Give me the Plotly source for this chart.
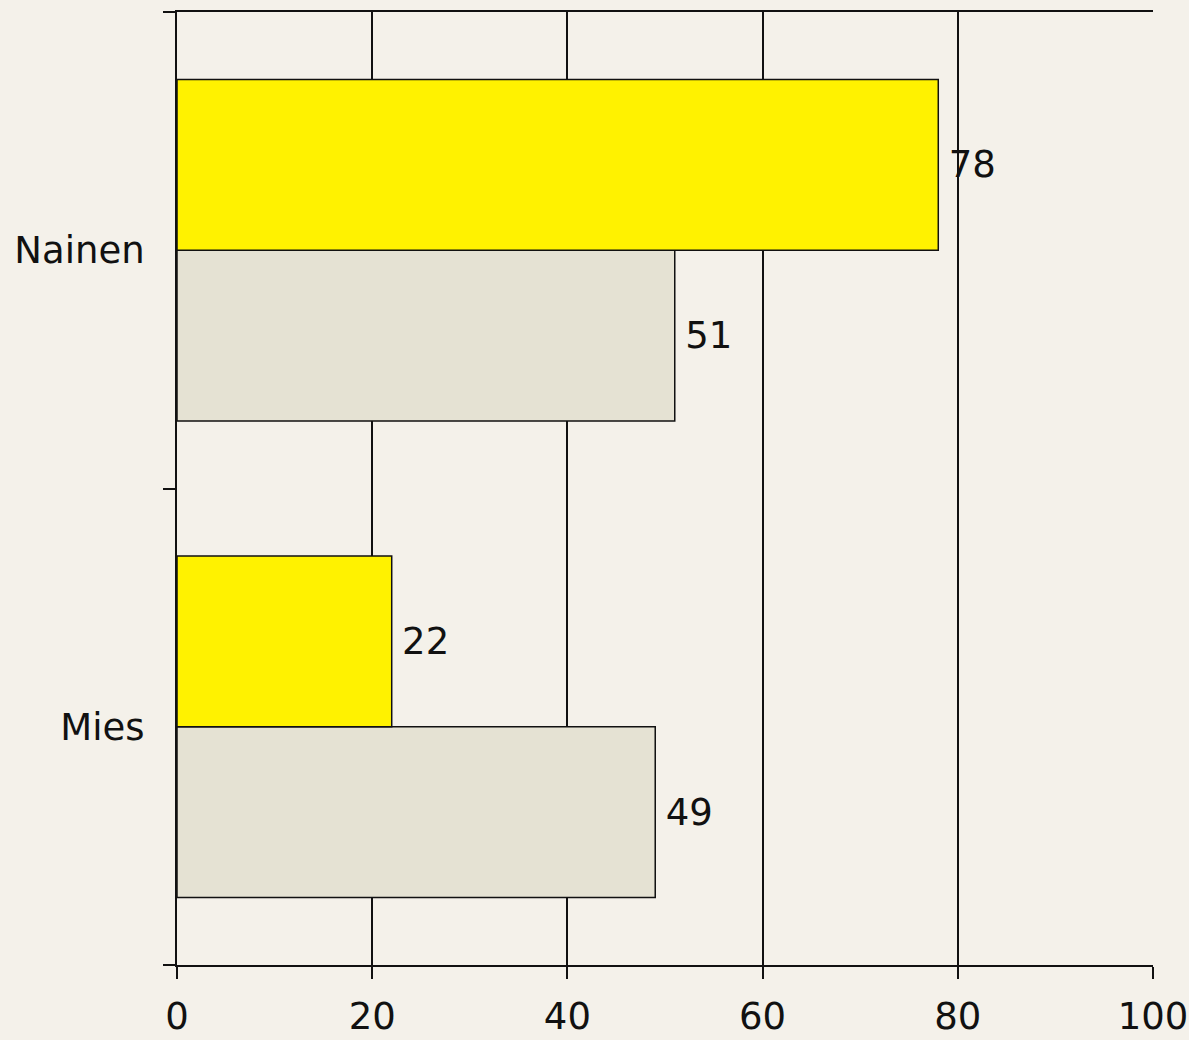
import plotly.graph_objects as go

categories = ["Mies", "Nainen"]
beige_values = [49, 51]
yellow_values = [22, 78]
x_ticks = [0, 20, 40, 60, 80, 100]

font_family = "DejaVu Sans, Verdana, sans-serif"
font_size = 37

fig = go.Figure()
fig.add_trace(go.Bar(
    y=categories, x=beige_values, orientation="h",
    marker=dict(color="#E5E2D3", line=dict(color="#111111", width=1.5)),
    text=["\u2009" + str(v) for v in beige_values],
    textposition="outside", cliponaxis=False, constraintext="none",
    textfont=dict(family=font_family, size=font_size, color="#111111"),
))
fig.add_trace(go.Bar(
    y=categories, x=yellow_values, orientation="h",
    marker=dict(color="#FFF200", line=dict(color="#111111", width=1.5)),
    text=["\u2009" + str(v) for v in yellow_values],
    textposition="outside", cliponaxis=False, constraintext="none",
    textfont=dict(family=font_family, size=font_size, color="#111111"),
))

fig.update_layout(
    width=1189, height=1040,
    margin=dict(l=177, r=36, t=12, b=75),
    paper_bgcolor="#F4F1EA", plot_bgcolor="#F4F1EA",
    barmode="group", bargap=0.283, bargroupgap=0,
    showlegend=False,
    font=dict(family=font_family, size=font_size, color="#111111"),
)
fig.update_xaxes(
    range=[0, 100], tickvals=x_ticks, showgrid=True, gridcolor="#111111", gridwidth=2,
    showline=True, linecolor="#111111", linewidth=2, mirror=True,
    ticks="outside", ticklen=12, tickwidth=2, tickcolor="#111111",
    zeroline=False, ticklabelstandoff=6, automargin=False,
)
fig.update_yaxes(
    showgrid=False, showline=True, linecolor="#111111", linewidth=2,
    ticks="outside", ticklen=12, tickwidth=2, tickcolor="#111111",
    tickson="boundaries", ticklabelstandoff=23, automargin=False,
)

# no page margin / scrollbars, so the figure fills the window exactly
post = ("document.documentElement.style.overflow='hidden';"
        "document.body.style.margin='0';document.body.style.overflow='hidden';")
fig.write_html("out.html", post_script=post, config={"displayModeBar": False})
